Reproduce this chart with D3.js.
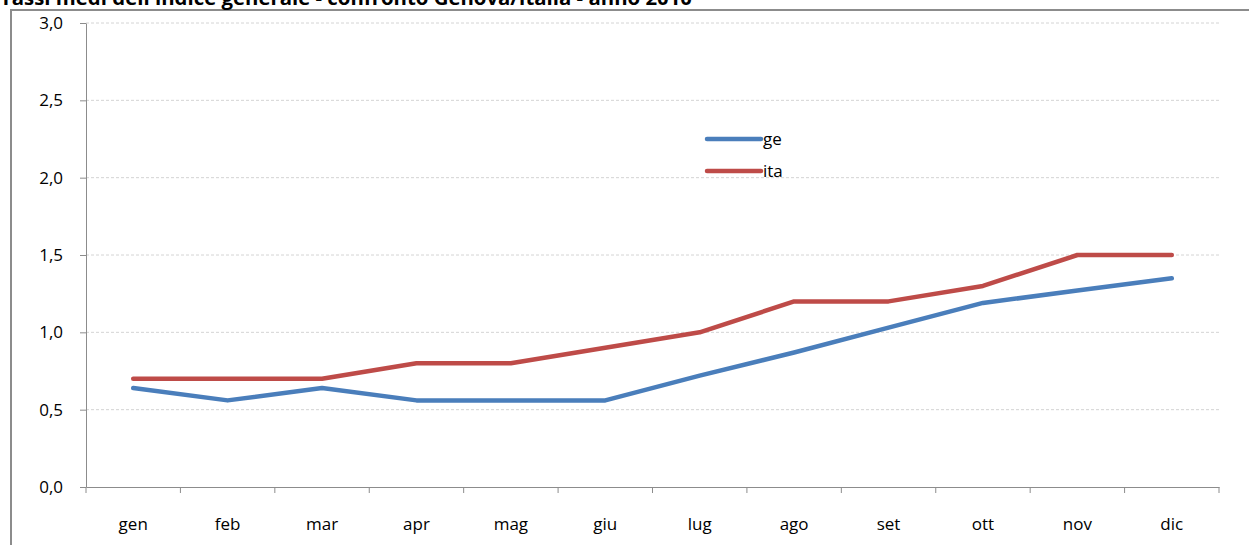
<!DOCTYPE html>
<html>
<head>
<meta charset="utf-8">
<script src="https://cdn.jsdelivr.net/npm/d3@7"></script>
<style>
  body { margin: 0; background: #fff; }
  svg { display: block; font-family: "Open Sans", "Noto Sans", sans-serif; }
</style>
</head>
<body>
<script>
var months = ['gen', 'feb', 'mar', 'apr', 'mag', 'giu', 'lug', 'ago', 'set', 'ott', 'nov', 'dic'];
var geValues = [0.64, 0.56, 0.64, 0.56, 0.56, 0.56, 0.72, 0.87, 1.03, 1.19, 1.27, 1.35];
var itaValues = [0.7, 0.7, 0.7, 0.8, 0.8, 0.9, 1.0, 1.2, 1.2, 1.3, 1.5, 1.5];
var yTicks = [0, 0.5, 1, 1.5, 2, 2.5, 3];
var seriesNames = ['ge', 'ita'];
var colors = ['#4a7ebb', '#be4b48'];

var width = 1249,
    height = 545;

var x0 = 86, x1 = 1219, yTop = 23, yBottom = 487;

var svg = d3.select('body').append('svg')
    .attr('width', width)
    .attr('height', height);

// frame of the chart area (cut off on the right and bottom)
svg.append('path')
    .attr('d', 'M11,' + height + 'V10H' + width)
    .attr('fill', 'none')
    .attr('stroke', '#8c8c8c')
    .attr('stroke-width', 2);

// title, partly cropped at the top (as in the original)
svg.append('text')
    .attr('x', 0)
    .attr('y', 5)
    .attr('font-size', '19px')
    .attr('font-weight', 'bold')
    .attr('fill', '#000')
    .attr('textLength', 692)
    .attr('lengthAdjust', 'spacingAndGlyphs')
    .text("Tassi medi dell'indice generale - confronto Genova/Italia - anno 2010");

var x = d3.scaleBand()
    .domain(months)
    .range([x0, x1]);

var y = d3.scaleLinear()
    .domain([0, 3])
    .range([yBottom, yTop]);

// gridlines
svg.append('g')
    .selectAll('line')
    .data(yTicks.filter(function (d) { return d > 0; }))
    .enter().append('line')
    .attr('x1', x0)
    .attr('x2', x1)
    .attr('y1', function (d) { return y(d); })
    .attr('y2', function (d) { return y(d); })
    .attr('stroke', '#d4d4d4')
    .attr('stroke-dasharray', '3,2');

var fmt = function (d) { return d3.format('.1f')(d).replace('.', ','); };

var yAxis = svg.append('g')
    .attr('transform', 'translate(' + x0 + ',0)')
    .call(d3.axisLeft(y).tickValues(yTicks).tickFormat(fmt).tickSize(6).tickPadding(17).tickSizeOuter(0));

var xAxis = svg.append('g')
    .attr('transform', 'translate(0,' + yBottom + ')')
    .call(d3.axisBottom(x).tickSize(0).tickPadding(31));

// category boundary ticks
xAxis.selectAll('.bound')
    .data(months.concat(['end']))
    .enter().append('line')
    .attr('class', 'bound')
    .attr('x1', function (d, i) { return x0 + i * x.bandwidth(); })
    .attr('x2', function (d, i) { return x0 + i * x.bandwidth(); })
    .attr('y1', 0)
    .attr('y2', 6)
    .attr('stroke', '#8c8c8c');

[yAxis, xAxis].forEach(function (a) {
    a.select('.domain').attr('stroke', '#8c8c8c');
    a.selectAll('.tick line').attr('stroke', '#8c8c8c');
    a.selectAll('.tick text').attr('font-size', '17px').attr('fill', '#000')
        .attr('font-family', '"Open Sans", sans-serif');
});

var line = d3.line()
    .x(function (d, i) { return x(months[i]) + x.bandwidth() / 2; })
    .y(function (d) { return y(d); });

var allSeries = [geValues, itaValues];

svg.selectAll('.series')
    .data(allSeries)
    .enter().append('path')
    .attr('class', 'series')
    .attr('d', line)
    .attr('fill', 'none')
    .attr('stroke', function (d, i) { return colors[i]; })
    .attr('stroke-width', 4.5)
    .attr('stroke-linecap', 'round')
    .attr('stroke-linejoin', 'round');

// legend
var legend = svg.selectAll('.legend')
    .data(seriesNames)
    .enter().append('g')
    .attr('class', 'legend')
    .attr('transform', function (d, i) { return 'translate(707,' + (139 + i * 32) + ')'; });

legend.append('line')
    .attr('x1', 0)
    .attr('x2', 54)
    .attr('stroke', function (d, i) { return colors[i]; })
    .attr('stroke-width', 4.5)
    .attr('stroke-linecap', 'round');

legend.append('text')
    .attr('x', 56)
    .attr('dy', '0.35em')
    .attr('font-size', '17px')
    .text(function (d) { return d; });
</script>
</body>
</html>
